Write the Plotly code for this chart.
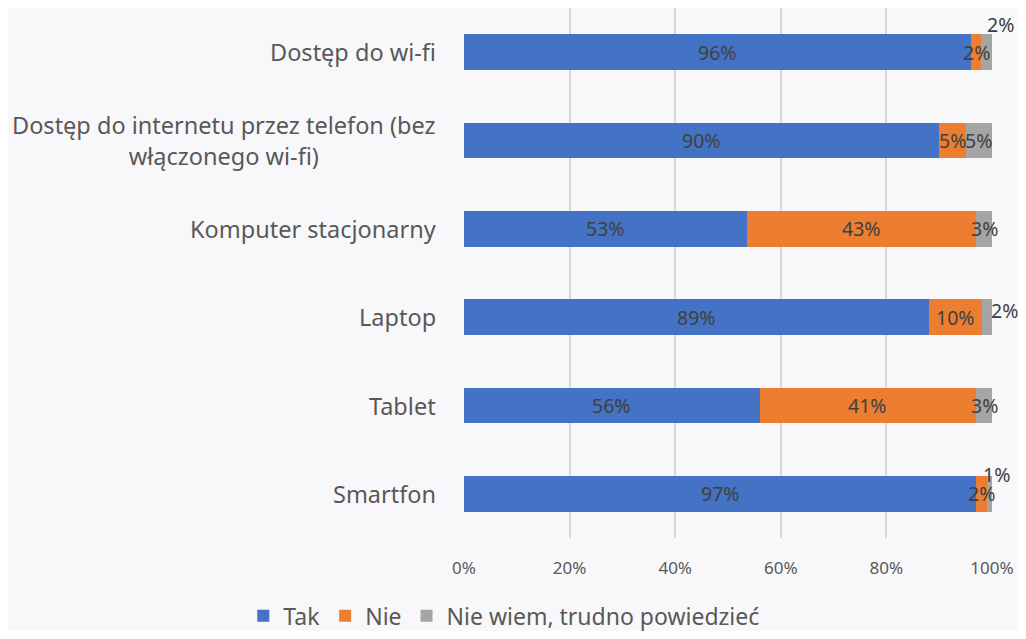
import plotly.graph_objects as go

categories = ['Dostęp do wi-fi',
              'Dostęp do internetu przez telefon (bez<br>włączonego wi-fi)',
              'Komputer stacjonarny', 'Laptop', 'Tablet', 'Smartfon']
tak = [96, 90, 53, 89, 56, 97]
nie = [2, 5, 43, 10, 41, 2]
nie_wiem = [2, 5, 3, 2, 3, 1]
series_names = ['Tak', 'Nie', 'Nie wiem, trudno powiedzieć']
colors = ['#4472C4', '#ED7D31', '#A5A5A5']
x_ticks = [0, 20, 40, 60, 80, 100]

# labels that do not fit in their segment get pushed a bit (px)
label_shift = {(0, 2): (14, 28), (3, 2): (18, 7), (5, 2): (7, 19)}

bg = '#f8f8fa'
font = 'Noto Sans'

fig = go.Figure()
for name, vals, col in zip(series_names, [tak, nie, nie_wiem], colors):
    fig.add_trace(go.Bar(y=categories, x=vals, name=name, orientation='h',
                         marker=dict(color=col, line=dict(width=0)),
                         textposition='none'))

annotations = []
for i, cat in enumerate(categories):
    vals = [tak[i], nie[i], nie_wiem[i]]
    total = sum(vals)
    start = 0
    for j, v in enumerate(vals):
        w = v / total * 100
        dx, dy = label_shift.get((i, j), (0, 0))
        annotations.append(dict(x=start + w / 2, y=cat, xref='x', yref='y',
                                text=f'{v}%', showarrow=False,
                                xshift=dx, yshift=dy,
                                font=dict(family=font, size=19.5, color='#404040')))
        start += w
    # category label, centered lines like the original
    annotations.append(dict(x=-0.049, y=cat, xref='paper', yref='y',
                            text=cat, showarrow=False, xanchor='right',
                            align='center',
                            font=dict(family=font, size=23.5, color='#595959')))

fig.update_layout(
    barmode='stack', barnorm='percent', bargap=0.594,
    width=1010, height=623,
    margin=dict(l=456, r=26, t=0, b=93, autoexpand=False),
    paper_bgcolor=bg, plot_bgcolor=bg,
    font=dict(family=font, color='#595959'),
    showlegend=True,
    legend=dict(orientation='h', x=-0.418, xanchor='left',
                y=-0.147, yanchor='middle',
                font=dict(size=23, color='#595959'),
                traceorder='normal', itemwidth=30),
    annotations=annotations,
)
fig.update_xaxes(range=[0, 100], tickvals=x_ticks,
                 ticktext=[f'{t}%' for t in x_ticks],
                 showgrid=True, gridcolor='#d9d9d9', gridwidth=1.5,
                 zeroline=False, ticklabelstandoff=18,
                 tickfont=dict(size=17, color='#595959'))
fig.update_yaxes(autorange='reversed', showticklabels=False, showgrid=False,
                 zeroline=False)

fig.write_html('out.html')
